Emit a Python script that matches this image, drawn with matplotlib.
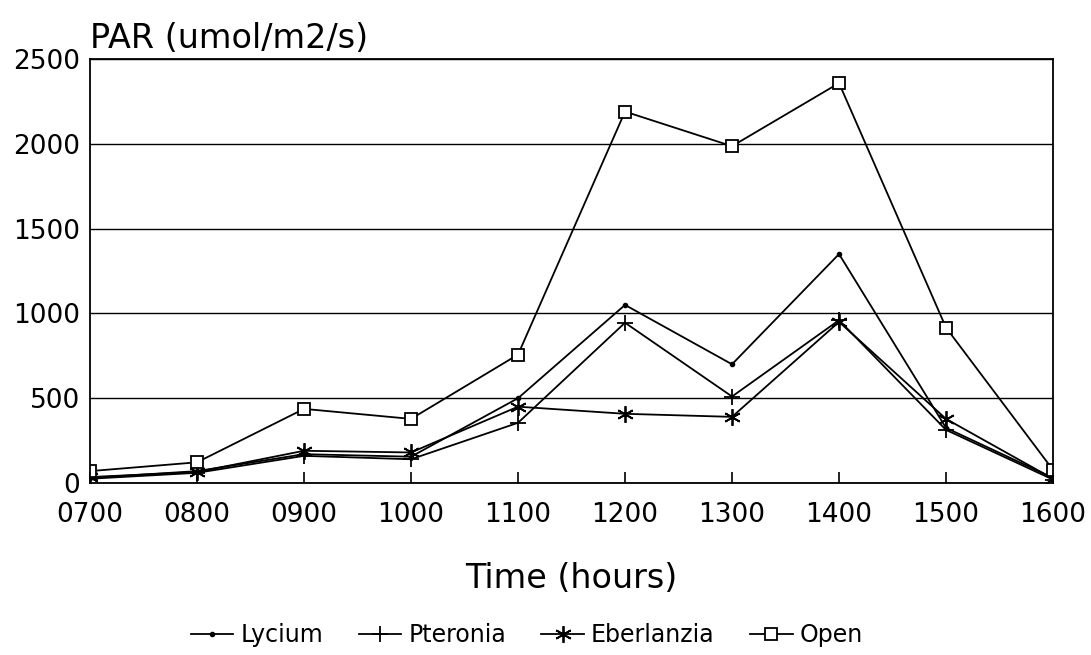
import matplotlib
matplotlib.use("Agg")
from matplotlib import pyplot as plt

# PAR readings by hour
hours = [7, 8, 9, 10, 11, 12, 13, 14, 15, 16]
hour_labels = ['0700', '0800', '0900', '1000', '1100', '1200', '1300', '1400', '1500', '1600']

lycium = [30, 70, 170, 155, 500, 1050, 700, 1350, 325, 30]
pteronia = [25, 60, 160, 140, 355, 945, 510, 960, 313, 20]
eberlanzia = [35, 65, 190, 180, 450, 408, 390, 950, 378, 25]
open_site = [70, 122, 437, 378, 757, 2190, 1986, 2358, 916, 77]

plt.rcParams['font.family'] = ['DejaVu Sans']

fig = plt.figure(figsize=(10.91, 6.55), dpi=100)
ax = fig.add_axes([0.0825, 0.2626, 0.8827, 0.6473])

lw = 1.3
ax.plot(hours, lycium, color='black', lw=lw, marker='o', ms=3, label='Lycium')
ax.plot(hours, pteronia, color='black', lw=lw, marker='+', ms=12, mew=1.3, label='Pteronia')
ax.plot(hours, eberlanzia, color='black', lw=lw, marker=(6, 2, 0), ms=12, mew=1.3, label='Eberlanzia')
ax.plot(hours, open_site, color='black', lw=lw, marker='s', ms=8.5, mfc='white', mew=1.3, label='Open')

ax.set_xlim(7, 16)
ax.set_ylim(0, 2500)
ax.set_xticks(hours)
ax.set_xticklabels(hour_labels)
ax.set_yticks([0, 500, 1000, 1500, 2000, 2500])
ax.yaxis.grid(True, color='black', lw=1)
ax.set_axisbelow(True)
ax.tick_params(axis='x', direction='in', length=8, width=1.2, labelsize=19, pad=14)
ax.tick_params(axis='y', length=0, labelsize=19, pad=7)
for s in ax.spines.values():
    s.set_linewidth(1.3)

fig.text(0.0825, 0.926, 'PAR (umol/m2/s)', fontsize=24, ha='left', va='baseline')
ax.set_xlabel('Time (hours)', fontsize=24, labelpad=24)

fig.legend(loc='lower center', bbox_to_anchor=(0.483, -0.02), ncol=4, frameon=False,
           fontsize=17, handlelength=1.8, columnspacing=1.5, handletextpad=0.3)

fig.savefig('out.png', dpi=100)
